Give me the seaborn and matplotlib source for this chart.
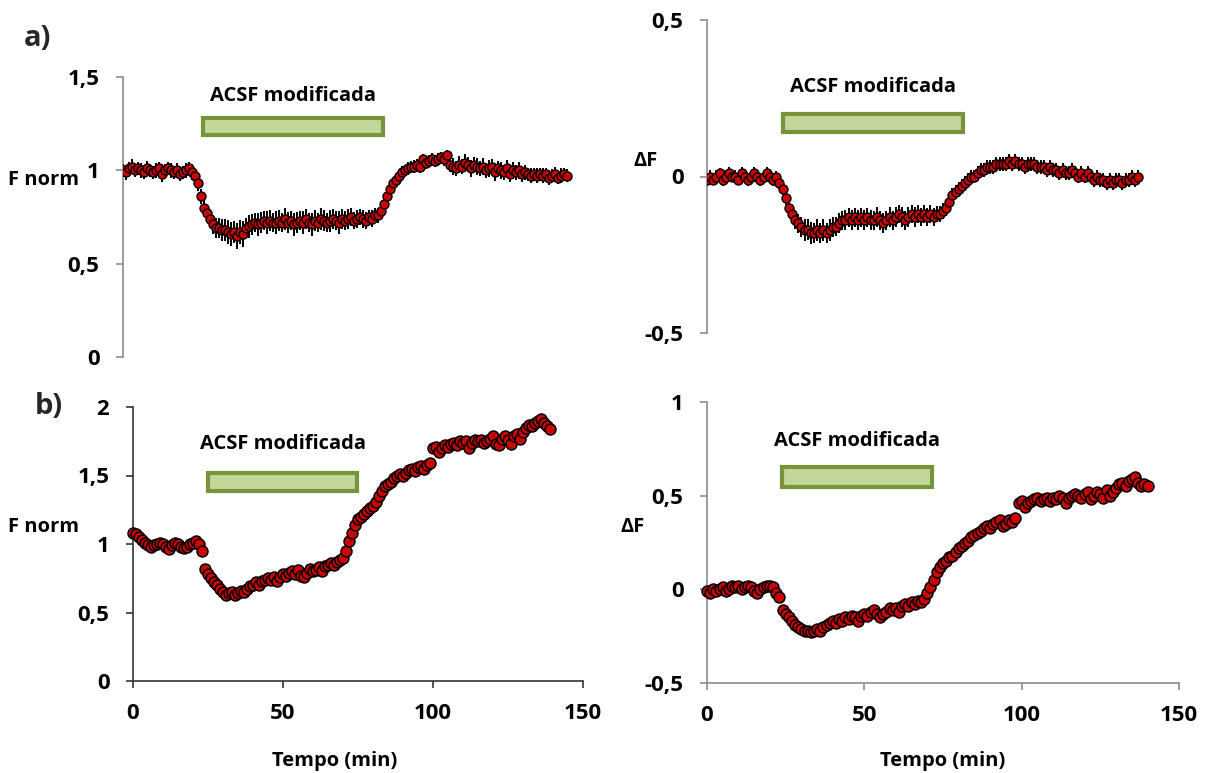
import matplotlib
matplotlib.use("Agg")
import matplotlib.pyplot as plt
import seaborn as sns
import pandas as pd
import numpy as np
from matplotlib.patches import Rectangle
from matplotlib.ticker import FuncFormatter, FixedLocator

sns.set_theme(style="white")
plt.rcParams['font.family'] = ['Open Sans', 'DejaVu Sans']
plt.rcParams['font.weight'] = 'bold'

# ---------------- DATA ----------------
# a) left: F norm (mean +- error), sampled every minute
a_fnorm = [1.00, 0.99, 1.01, 1.02, 1.00, 1.01, 1.00, 0.99, 1.01, 1.00, 0.99, 1.00, 1.01, 0.98, 1.00, 1.01,
           1.00, 0.99, 1.00, 0.98, 0.99, 1.00, 1.01, 0.99,
           0.97, 0.93, 0.86, 0.80, 0.77, 0.74, 0.71, 0.69, 0.69, 0.68, 0.68, 0.67, 0.66, 0.67, 0.65, 0.67, 0.66,
           0.69, 0.70, 0.71, 0.72, 0.71, 0.72, 0.73, 0.72, 0.73, 0.72, 0.72, 0.73, 0.72, 0.74, 0.72, 0.73, 0.71,
           0.72, 0.73, 0.72, 0.74, 0.72, 0.71, 0.73, 0.72, 0.74, 0.73, 0.72, 0.73, 0.74, 0.73, 0.72, 0.74, 0.73,
           0.74, 0.75, 0.73, 0.74, 0.75, 0.74, 0.73, 0.75, 0.74, 0.76, 0.76,
           0.78, 0.82, 0.86, 0.90, 0.93, 0.95, 0.97, 0.99, 1.00, 1.01, 1.02, 1.02, 1.03, 1.02, 1.06, 1.04, 1.05,
           1.06, 1.05, 1.06, 1.07, 1.06, 1.08,
           1.03, 1.02, 1.01, 1.03, 1.02, 1.04, 1.03, 1.01, 1.03, 1.02, 1.01, 1.02, 1.00, 1.01, 1.02, 0.99, 1.01,
           1.00, 0.99, 1.01, 0.98, 1.00, 0.99, 1.00, 0.98, 0.99, 0.98, 0.97, 0.98, 0.97, 0.98, 0.97, 0.98, 0.96,
           0.97, 0.98, 0.96, 0.97, 0.98, 0.97]
a_fnorm_err = [0.035, 0.04, 0.035, 0.04, 0.035, 0.035, 0.04, 0.035, 0.04, 0.035, 0.035, 0.04, 0.035, 0.04,
               0.035, 0.035, 0.04, 0.035, 0.04, 0.035, 0.035, 0.04, 0.035, 0.04,
               0.035, 0.04, 0.04, 0.045, 0.045, 0.05, 0.05, 0.055, 0.055, 0.06, 0.06, 0.065, 0.065, 0.06, 0.07,
               0.065, 0.07,
               0.055, 0.06, 0.055, 0.05, 0.06, 0.055, 0.05, 0.06, 0.055, 0.05, 0.06, 0.055, 0.05, 0.06, 0.055,
               0.05, 0.06, 0.055, 0.05, 0.06, 0.055, 0.05, 0.06, 0.055, 0.05, 0.06, 0.055, 0.05, 0.06, 0.055,
               0.05, 0.06, 0.055, 0.05, 0.055, 0.05, 0.045, 0.05, 0.045, 0.05, 0.045, 0.04, 0.045, 0.04, 0.04,
               0.04, 0.035, 0.035, 0.03, 0.03, 0.03, 0.03, 0.035, 0.03, 0.035, 0.03, 0.035, 0.03, 0.035, 0.03,
               0.035, 0.03, 0.035, 0.03, 0.035, 0.03, 0.035, 0.03,
               0.04, 0.045, 0.04, 0.045, 0.04, 0.045, 0.04, 0.045, 0.04, 0.045, 0.04, 0.045, 0.04, 0.045, 0.04,
               0.045, 0.04, 0.045, 0.04, 0.045, 0.04, 0.045, 0.04, 0.045, 0.04, 0.04, 0.035, 0.04, 0.035, 0.04,
               0.035, 0.04, 0.035, 0.04, 0.035, 0.04, 0.035, 0.04, 0.035, 0.035, 0.035]

# a) right: delta F (mean +- error)
a_delta = [-0.01, 0.00, -0.01, 0.00, 0.01, -0.01, 0.00, 0.01, 0.00, 0.00, -0.01, 0.01, 0.00, -0.01, 0.00,
           0.01, 0.00, -0.01, 0.00, 0.01, 0.00, -0.01, 0.00,
           -0.02, -0.04, -0.07, -0.10, -0.12, -0.14, -0.15, -0.16, -0.17, -0.17, -0.18, -0.18, -0.17, -0.18,
           -0.17, -0.18, -0.17, -0.16, -0.16, -0.15, -0.14, -0.14, -0.13, -0.14, -0.13, -0.14, -0.13, -0.14,
           -0.13, -0.14, -0.14, -0.13, -0.14, -0.15, -0.14, -0.13, -0.14, -0.13, -0.12, -0.13, -0.14, -0.13,
           -0.12, -0.13, -0.12, -0.13, -0.12, -0.13, -0.12, -0.13, -0.12, -0.12, -0.11,
           -0.10, -0.08, -0.06, -0.05, -0.04, -0.03, -0.02, -0.01, 0.00, 0.00, 0.01, 0.02, 0.02, 0.03, 0.03,
           0.03, 0.04, 0.04, 0.04, 0.04, 0.05, 0.04, 0.05, 0.04, 0.04, 0.03, 0.04, 0.04, 0.04, 0.03, 0.03,
           0.03, 0.02, 0.03, 0.02, 0.02, 0.01, 0.02, 0.01, 0.01, 0.02, 0.01, 0.00, 0.01, 0.00, 0.01, 0.00,
           -0.01, 0.00, -0.01, -0.01, -0.02, -0.01, -0.02, -0.01, -0.01, -0.02, -0.01, -0.01, 0.00, -0.01, 0.00]
a_delta_err = [0.018, 0.02, 0.018, 0.02, 0.018, 0.02, 0.018, 0.02, 0.018, 0.02, 0.018, 0.02, 0.018, 0.02,
               0.018, 0.02, 0.018, 0.02, 0.018, 0.02, 0.018, 0.02, 0.018,
               0.02, 0.02, 0.022, 0.025, 0.025, 0.028, 0.03, 0.032, 0.035, 0.033, 0.035, 0.033, 0.035, 0.033,
               0.035, 0.033, 0.035, 0.032, 0.03, 0.032, 0.03, 0.032, 0.03, 0.032, 0.03, 0.032, 0.03, 0.032,
               0.03, 0.032, 0.03, 0.032, 0.03, 0.032, 0.03, 0.032, 0.03, 0.032, 0.03, 0.032, 0.03, 0.032,
               0.03, 0.032, 0.03, 0.028, 0.03, 0.028, 0.03, 0.028, 0.026, 0.026, 0.025,
               0.025, 0.024, 0.024, 0.022, 0.022, 0.022, 0.022, 0.022, 0.022, 0.022, 0.022, 0.022, 0.022, 0.022,
               0.022, 0.022, 0.022, 0.022, 0.022, 0.022, 0.022, 0.022, 0.022, 0.022, 0.022, 0.022, 0.022, 0.022,
               0.022, 0.022, 0.022, 0.022, 0.022, 0.022, 0.022, 0.022, 0.022, 0.022, 0.022, 0.022, 0.022,
               0.022, 0.022, 0.022, 0.022, 0.022, 0.022, 0.022, 0.022, 0.022, 0.022, 0.022, 0.022, 0.022,
               0.022, 0.022, 0.022, 0.022, 0.022, 0.022, 0.022, 0.02]

# b) left: F norm
b_fnorm = [1.08, 1.07, 1.05, 1.03, 1.01, 0.99, 0.98, 0.99, 1.00, 1.01, 1.00, 0.98, 0.96, 0.99, 1.01, 1.00,
           0.98, 0.97, 0.98, 1.00, 1.01, 1.02, 1.00, 0.95,
           0.82, 0.78, 0.75, 0.72, 0.70, 0.67, 0.65, 0.63, 0.64, 0.65, 0.63, 0.64, 0.66, 0.65, 0.67, 0.69,
           0.70, 0.72, 0.70, 0.73, 0.74, 0.75, 0.74, 0.76, 0.73, 0.76, 0.78, 0.77, 0.79, 0.80, 0.78, 0.81,
           0.77, 0.76, 0.79, 0.82, 0.80, 0.81, 0.83, 0.80, 0.84, 0.85, 0.86, 0.85, 0.87, 0.88, 0.90,
           0.95, 1.02, 1.08, 1.14, 1.18, 1.20, 1.22, 1.24, 1.26, 1.28, 1.31, 1.35, 1.39, 1.42, 1.44, 1.45,
           1.48, 1.50, 1.51, 1.50, 1.52, 1.54, 1.55, 1.53, 1.56, 1.57, 1.55, 1.58, 1.59,
           1.70, 1.71, 1.67, 1.70, 1.72, 1.71, 1.73, 1.74, 1.72, 1.75, 1.74, 1.75, 1.70, 1.74, 1.76, 1.75,
           1.76, 1.74, 1.75, 1.77, 1.79, 1.73, 1.72, 1.77, 1.79, 1.76, 1.73, 1.79, 1.80, 1.77, 1.82, 1.85,
           1.87, 1.86, 1.88, 1.90, 1.91, 1.88, 1.86, 1.84]

# b) right: delta F
b_delta = [-0.01, -0.02, 0.00, -0.01, 0.00, 0.01, -0.01, 0.00, 0.02, 0.01, 0.02, 0.00, 0.01, 0.02, 0.01,
           -0.01, -0.02, 0.00, 0.01, 0.02, 0.02, 0.01, -0.02, -0.04,
           -0.11, -0.13, -0.15, -0.17, -0.19, -0.20, -0.21, -0.22, -0.22, -0.23, -0.22, -0.21, -0.22, -0.20,
           -0.19, -0.18, -0.17, -0.18, -0.16, -0.17, -0.15, -0.16, -0.14, -0.15, -0.17, -0.14, -0.13, -0.14,
           -0.12, -0.11, -0.13, -0.15, -0.13, -0.12, -0.10, -0.11, -0.10, -0.12, -0.09, -0.08, -0.09, -0.07,
           -0.08, -0.06, -0.07, -0.05, -0.02,
           0.01, 0.05, 0.09, 0.12, 0.14, 0.15, 0.17, 0.18, 0.20, 0.22, 0.23, 0.25, 0.26, 0.28, 0.29, 0.30,
           0.31, 0.33, 0.34, 0.33, 0.35, 0.36, 0.37, 0.34, 0.35, 0.37, 0.36, 0.38,
           0.46, 0.47, 0.44, 0.46, 0.47, 0.48, 0.49, 0.47, 0.48, 0.49, 0.47, 0.49, 0.48, 0.50, 0.49, 0.46,
           0.49, 0.50, 0.51, 0.50, 0.49, 0.51, 0.52, 0.48, 0.50, 0.52, 0.51, 0.49, 0.53, 0.50, 0.52, 0.54,
           0.56, 0.57, 0.55, 0.58, 0.59, 0.60, 0.57, 0.55, 0.56, 0.55]

a_time = list(range(len(a_fnorm)))
a_time_d = list(range(len(a_delta)))
b_time = list(range(len(b_fnorm)))
b_time_d = list(range(len(b_delta)))

# "ACSF modificada" application period (min) per panel
acsf_start = [26.7, 24.1, 25.0, 23.8]
acsf_end = [86.7, 81.3, 74.7, 71.4]
acsf_low = [1.19, 0.142, 1.385, 0.547]
acsf_high = [1.28, 0.199, 1.515, 0.652]
acsf_label_y = [1.40, 0.285, 1.73, 0.790]

fnorm_ticks_a = [0, 0.5, 1, 1.5]
delta_ticks_a = [-0.5, 0, 0.5]
fnorm_ticks_b = [0, 0.5, 1, 1.5, 2]
delta_ticks_b = [-0.5, 0, 0.5, 1]
time_ticks = [0, 50, 100, 150]

# ---------------- STYLE ----------------
RED = "#CC0000"
BAR_FACE = "#C4D79B"
BAR_EDGE = "#77933C"
GRAY = "#8C8C8C"
TICK_FS = 16
LAB_FS = 14.5
comma = FuncFormatter(lambda v, p: ("%g" % v).replace(".", ","))

fig = plt.figure(figsize=(12.05, 7.73), dpi=100)
W, H = 1205, 773

def px_axes(l, t, r, b):
    return fig.add_axes([l / W, 1 - b / H, (r - l) / W, (b - t) / H])

ax_tl = px_axes(123, 77, 573, 357)
ax_tr = px_axes(707, 20, 1179, 333)
ax_bl = px_axes(133, 407, 583, 681)
ax_br = px_axes(707, 402, 1179, 683)

def style(ax, yticks, spine_color, show_x):
    ax.set_facecolor("white")
    ax.set_xlim(0, 150)
    ax.set_ylim(yticks[0], yticks[-1])
    ax.yaxis.set_major_locator(FixedLocator(yticks))
    ax.yaxis.set_major_formatter(comma)
    for s in ["top", "right"]:
        ax.spines[s].set_visible(False)
    ax.spines["left"].set_color(spine_color)
    ax.spines["left"].set_linewidth(1.2)
    ax.tick_params(axis="y", left=True, direction="out", length=5, width=1.2,
                   color=spine_color, pad=12, labelsize=TICK_FS, labelcolor="black")
    if show_x:
        ax.spines["bottom"].set_color(spine_color)
        ax.spines["bottom"].set_linewidth(1.2)
        ax.xaxis.set_major_locator(FixedLocator(time_ticks))
        ax.xaxis.set_major_formatter(comma)
        ax.tick_params(axis="x", bottom=True, direction="out", length=5, width=1.2,
                       color=spine_color, pad=11, labelsize=TICK_FS, labelcolor="black")
    else:
        ax.spines["bottom"].set_visible(False)
        ax.set_xticks([])
    for lab in ax.get_xticklabels() + ax.get_yticklabels():
        lab.set_fontweight("bold")
    ax.grid(False)

def acsf(ax, i):
    ax.add_patch(Rectangle((acsf_start[i], acsf_low[i]), acsf_end[i] - acsf_start[i],
                           acsf_high[i] - acsf_low[i], facecolor=BAR_FACE, edgecolor=BAR_EDGE,
                           linewidth=3, zorder=2, clip_on=False))
    ax.text((acsf_start[i] + acsf_end[i]) / 2, acsf_label_y[i], "ACSF modificada",
            ha="center", va="center", fontsize=LAB_FS, fontweight="bold", color="black")

def ylab(ax, text, x, y):
    ax.set_ylabel(text, rotation=0, fontsize=LAB_FS, fontweight="bold", color="black",
                  ha="center", va="center")
    ax.yaxis.set_label_coords(x, y)

def xlab(ax, x, y):
    ax.set_xlabel("Tempo (min)", fontsize=LAB_FS, fontweight="bold", color="black")
    ax.xaxis.label.set_va("center")
    ax.xaxis.set_label_coords(x, y)

# top-left
style(ax_tl, fnorm_ticks_a, GRAY, False)
k = min(len(a_time), len(a_fnorm_err))
df = pd.DataFrame({"t": a_time[:k], "v": a_fnorm[:k], "e": a_fnorm_err[:k]})
ax_tl.errorbar(df.t, df.v, yerr=df.e, fmt="none", ecolor="black", elinewidth=1.4, capsize=0, zorder=3)
sns.scatterplot(data=df, x="t", y="v", ax=ax_tl, s=42, color=RED, edgecolor="black", linewidth=1.0,
                zorder=4, legend=False)
acsf(ax_tl, 0)
ylab(ax_tl, "F norm", -0.176, 0.632)
ax_tl.set_xlabel("")

# top-right
style(ax_tr, delta_ticks_a, GRAY, False)
k = min(len(a_time_d), len(a_delta_err))
df = pd.DataFrame({"t": a_time_d[:k], "v": a_delta[:k], "e": a_delta_err[:k]})
ax_tr.errorbar(df.t, df.v, yerr=df.e, fmt="none", ecolor="black", elinewidth=1.4, capsize=0, zorder=3)
sns.scatterplot(data=df, x="t", y="v", ax=ax_tr, s=42, color=RED, edgecolor="black", linewidth=1.0,
                zorder=4, legend=False)
acsf(ax_tr, 1)
ylab(ax_tr, "ΔF", -0.131, 0.55)
ax_tr.set_xlabel("")

# bottom-left
style(ax_bl, fnorm_ticks_b, "#333333", True)
df = pd.DataFrame({"t": b_time, "v": b_fnorm})
sns.scatterplot(data=df, x="t", y="v", ax=ax_bl, s=62, color=RED, edgecolor="black", linewidth=1.1,
                zorder=4, legend=False, clip_on=False)
acsf(ax_bl, 2)
ylab(ax_bl, "F norm", -0.198, 0.562)
xlab(ax_bl, 0.449, -0.292)

# bottom-right
style(ax_br, delta_ticks_b, GRAY, True)
df = pd.DataFrame({"t": b_time_d, "v": b_delta})
sns.scatterplot(data=df, x="t", y="v", ax=ax_br, s=62, color=RED, edgecolor="black", linewidth=1.1,
                zorder=4, legend=False, clip_on=False)
acsf(ax_br, 3)
ylab(ax_br, "ΔF", -0.157, 0.555)
xlab(ax_br, 0.5, -0.278)

fig.text(37 / W, 1 - 39 / H, "a)", fontsize=21, fontweight="bold", ha="center", va="center")
fig.text(49 / W, 1 - 406 / H, "b)", fontsize=21, fontweight="bold", ha="center", va="center")

fig.savefig("out.png", dpi=100, facecolor="white")
